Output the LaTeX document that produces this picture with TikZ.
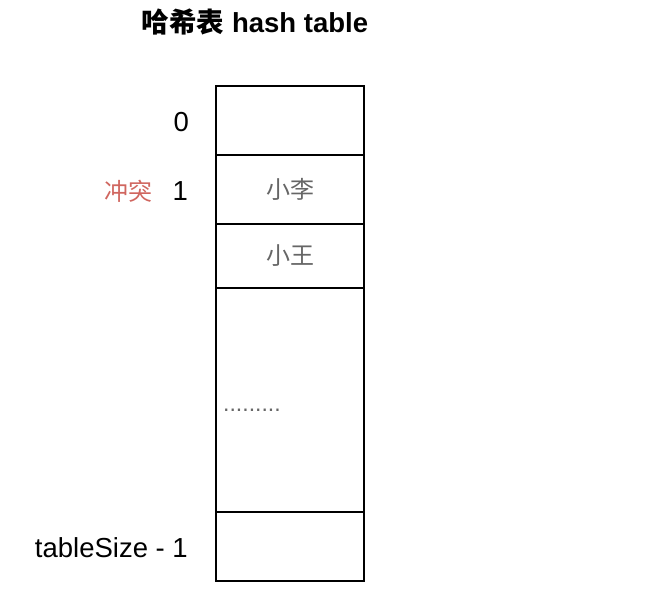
\documentclass[tikz,border=0pt]{standalone}
\usepackage{fontspec}
\usepackage{xcolor}
\setmainfont{Liberation Sans}
\newfontfamily\cjk{Noto Sans CJK SC}
\usetikzlibrary{positioning}
\definecolor{clash}{HTML}{D0665F}
\definecolor{cellgray}{HTML}{666666}

\begin{document}
\begin{tikzpicture}[x=1pt,y=-1pt,
    cell/.style={draw, line width=2.7pt, minimum width=148pt, inner sep=0pt},
    idx/.style={font=\fontsize{27.5}{32}\selectfont, anchor=east, inner sep=0pt},
    entry/.style={font=\cjk\fontsize{24}{28}\selectfont, text=cellgray}]
    \useasboundingbox (0,0) rectangle (646,616);

    % Title
    \node[font=\bfseries\fontsize{27.5}{32}\selectfont] (title) at (255,22) {{\cjk 哈希表} hash table};

    % Table slots
    \node[cell, minimum height=69pt] (slot0) at (290,120.5) {};
    \node[cell, minimum height=69pt] (slot1) at (290,189.5) {};
    \node[cell, minimum height=64pt] (slot2) at (290,256) {};
    \node[cell, minimum height=224pt] (slotmid) at (290,400) {};
    \node[cell, minimum height=69pt] (slotlast) at (290,546.5) {};

    % Entries
    \node[entry] (li) at (slot1) {小李};
    \node[entry] (wang) at (slot2) {小王};
    \node[font=\fontsize{23}{26}\selectfont, text=cellgray, anchor=west, inner sep=0pt] (dots) at (223,410) {.........};

    % Indices
    \node[idx] (i0) at (189,122) {0};
    \node[idx] (i1) at (188,191) {1};
    \node[idx] (ilast) at (188,548) {tableSize - 1};
    \node[font=\cjk\fontsize{24}{28}\selectfont, text=clash] (clash) at (128,191) {冲突};
\end{tikzpicture}
\end{document}
